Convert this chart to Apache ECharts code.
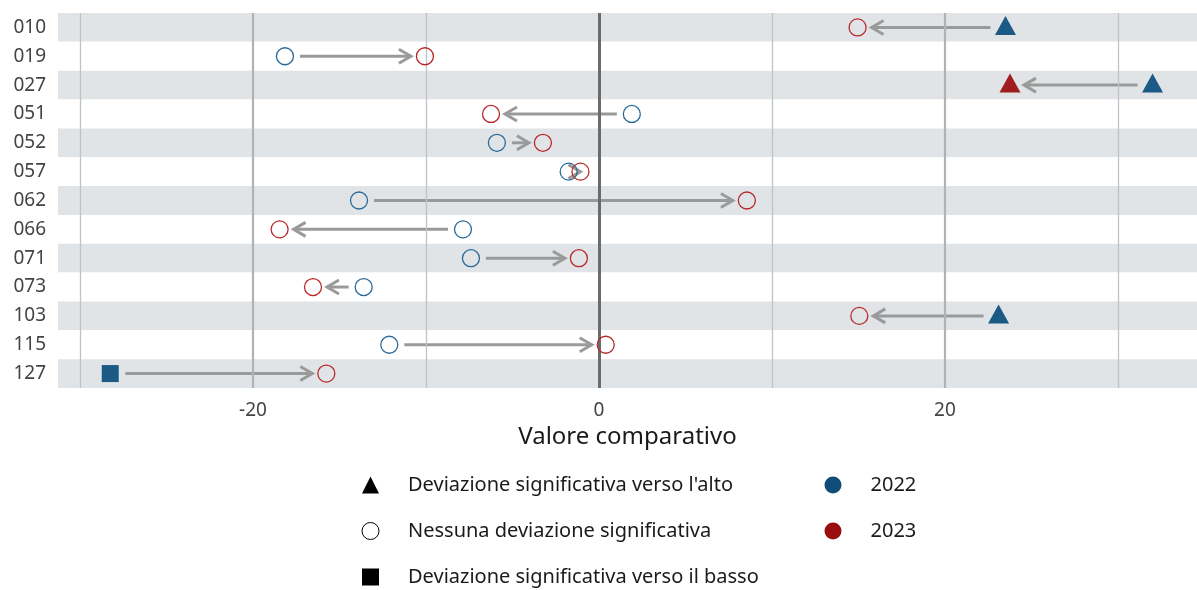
<!DOCTYPE html>
<html>
<head>
<meta charset="utf-8">
<script src="https://cdn.jsdelivr.net/npm/echarts@6/dist/echarts.min.js"></script>
<style>
html,body{margin:0;padding:0;background:#fff;}
#chart{width:1197px;height:590px;}
</style>
</head>
<body>
<div id="chart"></div>
<script>
// ---- data ----
const categories = ['010','019','027','051','052','057','062','066','071','073','103','115','127'];
const values2022 = [23.5, -18.15, 32.0, 1.9, -5.9, -1.75, -13.87, -7.86, -7.4, -13.6, 23.1, -12.12, -28.25];
const values2023 = [14.95, -10.06, 23.76, -6.24, -3.24, -1.07, 8.55, -18.46, -1.16, -16.53, 15.05, 0.39, -15.76];
// significance: 'up' = significant upward, 'none' = no significant deviation, 'down' = significant downward
const sig2022 = ['up','none','up','none','none','none','none','none','none','none','up','none','down'];
const sig2023 = ['none','none','up','none','none','none','none','none','none','none','none','none','none'];
const xTickLabels = [-20, 0, 20];
const gridValues = [-30, -20, -10, 0, 10, 20, 30];
const legendShapes = ["Deviazione significativa verso l'alto", 'Nessuna deviazione significativa', 'Deviazione significativa verso il basso'];
const legendYears = ['2022', '2023'];

// ---- style ----
const FONT = 'Noto Sans';
const BLUE = '#1b5a84';
const RED = '#a11c1c';
const BLUE_LINE = '#2a6b9a';
const RED_LINE = '#b82a2a';
const ARROW = '#9a9a9a';

function pointItem(v, i, sig, fill, stroke) {
  if (sig === 'up') {
    return { value: [v, i], symbol: 'triangle', symbolSize: [21, 19], symbolOffset: [0, -2],
      itemStyle: { color: fill, borderWidth: 0, opacity: 1 } };
  }
  if (sig === 'down') {
    return { value: [v, i], symbol: 'rect', symbolSize: 17,
      itemStyle: { color: fill, borderWidth: 0, opacity: 1 } };
  }
  return { value: [v, i], symbol: 'circle', symbolSize: 17,
    itemStyle: { color: 'rgba(255,255,255,0)', borderColor: stroke, borderWidth: 1.3, opacity: 1 } };
}

const data2022 = values2022.map((v, i) => pointItem(v, i, sig2022[i], BLUE, BLUE_LINE));
const data2023 = values2023.map((v, i) => pointItem(v, i, sig2023[i], RED, RED_LINE));
const arrowData = categories.map((c, i) => [values2022[i], values2023[i], i]);

function gridStyle(v) {
  if (v === 0) return { color: '#6b6b6b', width: 3, type: 'solid' };
  if (v % 20 === 0) return { color: '#b0b2b4', width: 2.2, type: 'solid' };
  return { color: '#c0c2c4', width: 1.3, type: 'solid' };
}

const legendCommon = {
  orient: 'vertical', padding: 0, top: 475,
  itemWidth: 17, itemHeight: 17, itemGap: 26, selectedMode: false,
  formatter: function (name) { return '{sp|}' + name; },
  textStyle: { fontFamily: FONT, fontSize: 20, color: '#1a1a1a', rich: { sp: { width: 24 } } }
};

const chart = echarts.init(document.getElementById('chart'), null, { renderer: 'canvas' });

const option = {
  backgroundColor: '#ffffff',
  animation: false,
  textStyle: { fontFamily: FONT },
  grid: { left: 58, right: 0, top: 13, bottom: 202, containLabel: false },
  xAxis: {
    type: 'value',
    min: -31.27,
    max: 34.57,
    name: 'Valore comparativo',
    nameLocation: 'middle',
    nameGap: 37,
    nameTextStyle: { fontFamily: FONT, fontSize: 24, color: '#1a1a1a' },
    axisLine: { show: false },
    axisTick: { show: false },
    splitLine: { show: false },
    axisLabel: { customValues: xTickLabels, fontFamily: FONT, fontSize: 19, color: '#444', margin: 13 }
  },
  yAxis: {
    type: 'category',
    data: categories,
    inverse: true,
    axisLine: { show: false },
    axisTick: { show: false },
    splitLine: { show: false },
    splitArea: { show: true, areaStyle: { color: ['#e1e4e7', '#ffffff'] } },
    axisLabel: { fontFamily: FONT, fontSize: 19, color: '#444', margin: 12 }
  },
  legend: [
    Object.assign({}, legendCommon, {
      left: 361.5,
      data: [
        { name: legendShapes[0], icon: 'triangle', itemStyle: { color: '#000', borderWidth: 0, opacity: 1 } },
        { name: legendShapes[1], icon: 'circle', itemStyle: { color: '#fff', borderColor: '#000', borderWidth: 1, opacity: 1 } },
        { name: legendShapes[2], icon: 'rect', itemStyle: { color: '#000', borderWidth: 0, opacity: 1 } }
      ]
    }),
    Object.assign({}, legendCommon, {
      left: 824.5,
      data: [
        { name: legendYears[0], icon: 'circle', itemStyle: { color: '#0f4d78', borderWidth: 0, opacity: 1 } },
        { name: legendYears[1], icon: 'circle', itemStyle: { color: '#990d0d', borderWidth: 0, opacity: 1 } }
      ]
    })
  ],
  series: [
    {
      name: 'grid',
      type: 'scatter',
      data: [],
      z: 1,
      silent: true,
      markLine: {
        silent: true,
        symbol: 'none',
        label: { show: false },
        animation: false,
        data: gridValues.map(v => ({ xAxis: v, lineStyle: gridStyle(v) }))
      }
    },
    {
      name: 'arrows',
      type: 'custom',
      z: 3,
      silent: true,
      data: arrowData,
      renderItem: function (params, api) {
        const a = api.coord([api.value(0), api.value(2)]);
        const b = api.coord([api.value(1), api.value(2)]);
        const dir = b[0] >= a[0] ? 1 : -1;
        const g1 = 15, g2 = 14, hl = 12, hw = 7;
        const y = a[1];
        const x1 = a[0] + dir * g1;
        let x2 = b[0] - dir * g2;
        const children = [];
        if ((x2 - x1) * dir > 2) {
          children.push({ type: 'line', shape: { x1: x1, y1: y, x2: x2, y2: y },
            style: { stroke: ARROW, lineWidth: 3 } });
        } else {
          x2 = b[0];
        }
        children.push({ type: 'polyline',
          shape: { points: [[x2 - dir * hl, y - hw], [x2, y], [x2 - dir * hl, y + hw]] },
          style: { stroke: ARROW, lineWidth: 3, fill: null } });
        return { type: 'group', children: children };
      }
    },
    { name: legendShapes[0], type: 'scatter', data: [], silent: true, itemStyle: { color: '#000', opacity: 1 } },
    { name: legendShapes[1], type: 'scatter', data: [], silent: true, itemStyle: { color: '#fff', opacity: 1 } },
    { name: legendShapes[2], type: 'scatter', data: [], silent: true, itemStyle: { color: '#000', opacity: 1 } },
    { name: legendYears[0], type: 'scatter', z: 4, data: data2022, silent: true, itemStyle: { color: BLUE, opacity: 1 } },
    { name: legendYears[1], type: 'scatter', z: 5, data: data2023, silent: true, itemStyle: { color: RED, opacity: 1 } }
  ]
};
chart.setOption(option);
</script>
</body>
</html>
